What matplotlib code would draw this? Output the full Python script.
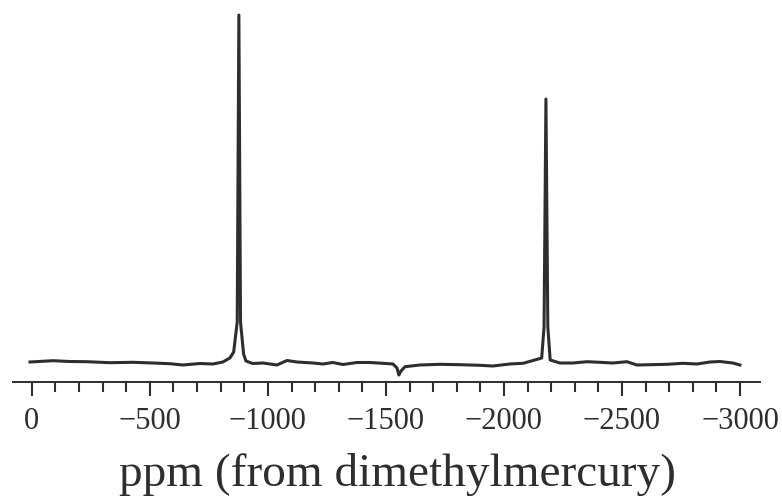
import numpy as np
import matplotlib
matplotlib.use("Agg")
import matplotlib.pyplot as plt
from matplotlib.ticker import MultipleLocator

# spectrum: chemical shift (ppm) and signal height (arb. units)
ppm = [8, -89, -160, -233, -331, -428, -513, -585, -640, -712, -767, -809, -839,
       -855, -870, -877, -884, -897, -907,
       -936, -979, -1038, -1081, -1123, -1191, -1233, -1275, -1318, -1377, -1432,
       -1487, -1530, -1547, -1555, -1564, -1581, -1644, -1729, -1814, -1898, -1953,
       -2025, -2081, -2131,
       -2160, -2170, -2178, -2186, -2196,
       -2237, -2292, -2352, -2407, -2462, -2521, -2564, -2619, -2691, -2758, -2818,
       -2873, -2915, -2970, -3000]
signal = [20, 21.3, 20.5, 20.3, 19.3, 19.7, 19, 18.3, 17, 18.5, 18, 20, 24,
          30, 60, 367, 60, 28, 21,
          18.5, 19, 17, 21.5, 20, 19, 18, 19.5, 17.5, 19.5, 19.5,
          18.7, 18, 14, 7, 11, 15.3, 17, 17.7, 17.3, 16.7, 16,
          18, 18.7, 22,
          24, 55, 283, 55, 22,
          19, 19, 20.3, 19.7, 19, 20.3, 17, 17.3, 17.7, 18.7, 18,
          20, 20.5, 19, 17]

xlabel = "ppm (from dimethylmercury)"
major_step = 500
minor_step = 100

ink = "#2e2e2e"
plt.rcParams["font.family"] = ["Liberation Serif", "DejaVu Serif"]

fig = plt.figure(figsize=(7.82, 5.01), dpi=100)
ax = fig.add_axes([13 / 782, 119 / 501, 747 / 782, 369 / 501])

ax.plot(ppm, signal, color=ink, lw=2.2, solid_joinstyle="round")

ax.set_xlim(80, -3085)
ax.set_ylim(0, 369)

for side in ["top", "left", "right"]:
    ax.spines[side].set_visible(False)
ax.spines["bottom"].set_color(ink)
ax.spines["bottom"].set_linewidth(1.4)

ax.set_yticks([])
ax.xaxis.set_major_locator(MultipleLocator(major_step))
ax.xaxis.set_minor_locator(MultipleLocator(minor_step))
ax.tick_params(axis="x", which="major", direction="out", length=10, width=1.5,
               color=ink, labelsize=22, labelcolor=ink, pad=8)
ax.tick_params(axis="x", which="minor", direction="out", length=7, width=1.5,
               color=ink)
ax.set_xlabel(xlabel, fontsize=34, color=ink, labelpad=12)
ax.xaxis.label.set_x(0.515)

fig.savefig("out.png", dpi=100)
